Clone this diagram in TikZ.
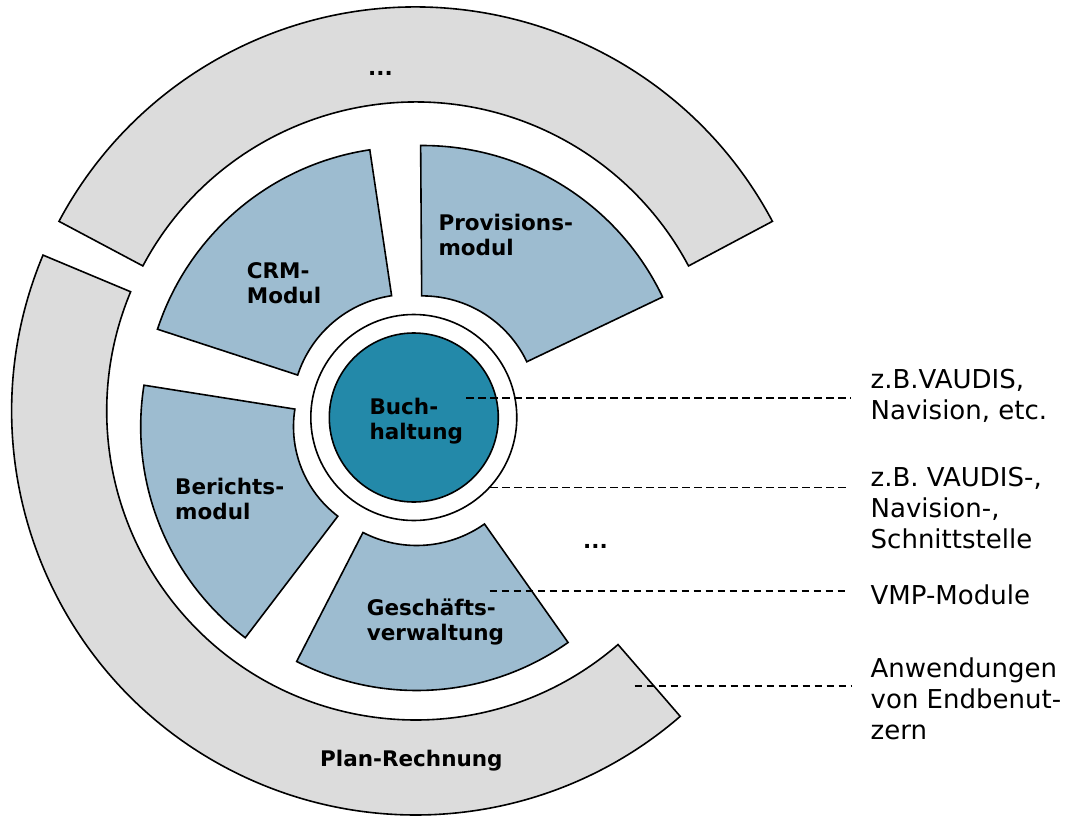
\documentclass[tikz,border=0pt]{standalone}
\usepackage{fontspec}
\setmainfont{DejaVu Sans}
\definecolor{ringgrey}{HTML}{DCDCDC}
\definecolor{secblue}{HTML}{9DBCD0}
\definecolor{coreblue}{HTML}{2389A9}
\begin{document}
\begin{tikzpicture}[x=1pt,y=1pt,
  outl/.style={draw=black,line width=1.6pt,line join=miter},
  greyseg/.style={outl,fill=ringgrey},
  sector/.style={outl,fill=secblue},
  boldlab/.style={inner sep=0pt,anchor=base west,align=left,font=\fontsize{21.5}{25}\selectfont\bfseries},
  sidelab/.style={inner sep=0pt,anchor=base west,align=left,font=\fontsize{26}{31}\selectfont},
  dashline/.style={draw=black,line width=1.8pt,dash pattern=on 7.5pt off 4.5pt}]
\useasboundingbox (0,0) rectangle (1068,-816);
% outer grey segments
\draw[greyseg,shift={(415.7,-411)}] (28:404) arc[start angle=28,end angle=152,radius=404]
  -- (152:309) arc[start angle=152,end angle=28,radius=309] -- cycle;
\draw[greyseg,shift={(415.7,-411)}] (157.3:404) arc[start angle=157.3,end angle=310.9,radius=404]
  -- (310.9:309) arc[start angle=310.9,end angle=157.3,radius=309] -- cycle;
% module sectors
\draw[sector,shift={(408.9,-411.4)}] (98.5:264.5) arc[start angle=98.5,end angle=161.9,radius=264.5]
  -- (161.9:117) arc[start angle=161.9,end angle=98.5,radius=117] -- cycle;
\draw[sector,shift={(422.5,-411.5)}] (25.5:266) arc[start angle=25.5,end angle=90.4,radius=266]
  -- (90.4:115.6) arc[start angle=90.4,end angle=25.5,radius=115.6] -- cycle;
\draw[sector,shift={(406,-426.7)}] (171:265.3) arc[start angle=171,end angle=232.7,radius=265.3]
  -- (232.7:112.5) arc[start angle=232.7,end angle=171,radius=112.5] -- cycle;
\draw[sector,shift={(416.7,-427.9)}] (242.8:262.6) arc[start angle=242.8,end angle=305.2,radius=262.6]
  -- (305.2:117.6) arc[start angle=305.2,end angle=242.8,radius=117.6] -- cycle;
% interface ring and core
\draw[outl,fill=white] (413.8,-417.5) circle[radius=103];
\draw[outl,fill=coreblue] (413.8,-417.5) circle[radius=84.5];
% labels (anchor = baseline of the last line)
\node[boldlab] (dotstop) at (368,-76) {...};
\node[boldlab] (prov) at (438.3,-255) {Provisions-\\modul};
\node[boldlab] (crm) at (246.7,-303.3) {CRM-\\Modul};
\node[boldlab] (buch) at (369.3,-439.5) {Buch-\\haltung};
\node[boldlab] (ber) at (175,-519.5) {Berichts-\\modul};
\node[boldlab] (gesch) at (366.7,-640) {Geschäfts-\\verwaltung};
\node[boldlab] (dotsmid) at (583,-548.3) {...};
\node[boldlab] (plan) at (320,-766.7) {Plan-Rechnung};
\node[sidelab] (lab1) at (870.5,-419) {z.B.VAUDIS,\\Navision, etc.};
\node[sidelab] (lab2) at (870.5,-548.3) {z.B. VAUDIS-,\\Navision-,\\Schnittstelle};
\node[sidelab] (lab3) at (870.5,-604) {VMP-Module};
\node[sidelab] (lab4) at (870.5,-739.5) {Anwendungen\\von Endbenut-\\zern};
% leader lines
\coordinate (d1s) at (466,-398.3);  \coordinate (d1e) at (851,-398.3);
\coordinate (d2s) at (490,-487.5);  \coordinate (d2e) at (849,-487.5);
\coordinate (d3s) at (489.7,-591);  \coordinate (d3e) at (847.5,-591);
\coordinate (d4s) at (634.7,-686);  \coordinate (d4e) at (851,-686);
\draw[dashline] (d1s) -- (d1e);
\draw[dashline] (d2s) -- (d2e);
\draw[dashline] (d3s) -- (d3e);
\draw[dashline] (d4s) -- (d4e);
\end{tikzpicture}
\end{document}
